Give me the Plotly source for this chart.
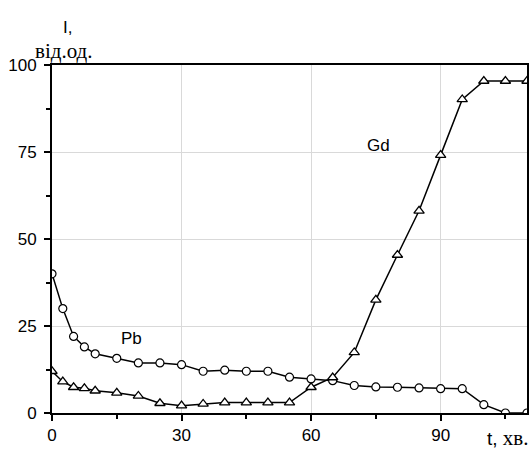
import plotly.graph_objects as go

t = [0, 2.5, 5, 7.5, 10, 15, 20, 25, 30, 35, 40, 45, 50, 55, 60, 65, 70, 75, 80, 85, 90, 95, 100, 105, 110]
pb = [40, 30, 22, 19, 17, 15.7, 14.4, 14.4, 13.9, 12, 12.3, 12, 12, 10.3, 9.8, 9.3, 7.9, 7.5, 7.4, 7.2, 7.0, 7.0, 2.4, 0, 0]
gd = [12, 9, 7.4, 7.1, 6.4, 5.8, 4.9, 2.8, 2.1, 2.6, 3, 3, 3, 3, 7.4, 10.2, 17.4, 32.5, 45.4, 58.1, 74.1, 90.1, 95.4, 95.4, 95.4]

x_ticks = [0, 30, 60, 90]
y_ticks = [0, 25, 50, 75, 100]

fig = go.Figure()
fig.add_trace(go.Scatter(
    x=t, y=pb, mode="lines+markers", name="Pb",
    line=dict(color="black", width=1.5),
    marker=dict(symbol="circle", size=8, color="white", line=dict(color="black", width=1.2)),
))
fig.add_trace(go.Scatter(
    x=t, y=gd, mode="lines+markers", name="Gd",
    line=dict(color="black", width=1.5),
    marker=dict(symbol="triangle-up", size=9, color="white", line=dict(color="black", width=1.3)),
))

axis_font = dict(family="Liberation Sans, Arial", size=17, color="black")
fig.update_xaxes(
    range=[0, 110], tickvals=x_ticks, ticks="outside", ticklen=6, tickwidth=1.5, tickcolor="black",
    showline=True, linecolor="black", linewidth=2, mirror=True,
    showgrid=True, gridcolor="#d9d9d9", gridwidth=1, zeroline=False,
    minor=dict(dtick=15, tick0=0, ticks="outside", ticklen=4, tickcolor="black", showgrid=False),
    tickfont=axis_font, automargin=False,
)
fig.update_yaxes(
    range=[0, 100], tickvals=y_ticks, ticks="outside", ticklen=6, tickwidth=1.5, tickcolor="black",
    showline=True, linecolor="black", linewidth=2, mirror=True,
    showgrid=True, gridcolor="#d9d9d9", gridwidth=1, zeroline=False,
    minor=dict(dtick=12.5, tick0=0, ticks="outside", ticklen=4, tickcolor="black", showgrid=False),
    tickfont=axis_font, ticklabelstandoff=4, automargin=False,
)

fig.add_annotation(x=18.3, y=21.5, text="Pb", showarrow=False, font=dict(family="Liberation Sans, Arial", size=17, color="black"))
fig.add_annotation(x=75.5, y=77, text="Gd", showarrow=False, font=dict(family="Liberation Sans, Arial", size=17, color="black"))

fig.add_annotation(xref="paper", yref="paper", x=0.032, y=1.109, xanchor="center", yanchor="middle",
                   text="I,", showarrow=False, font=dict(family="Liberation Sans, Arial", size=17, color="black"))
fig.add_annotation(xref="paper", yref="paper", x=0.025, y=1.0, xanchor="center", yanchor="bottom",
                   text="від.од.", showarrow=False, font=dict(family="Liberation Serif, Times New Roman", size=21, color="black"))
fig.add_annotation(xref="paper", yref="paper", x=1.008, y=0.0, xanchor="right", yanchor="bottom", yshift=-39,
                   text="t, <span style='font-family:Liberation Serif;font-size:21px'>хв.</span>", showarrow=False,
                   font=dict(family="Liberation Sans, Arial", size=19, color="black"))

fig.update_layout(
    width=531, height=452,
    margin=dict(l=52, r=4, t=65, b=39),
    plot_bgcolor="white", paper_bgcolor="white",
    showlegend=False,
)

fig.write_html("out.html", config={"displayModeBar": False},
               post_script="document.body.style.margin='0';")
